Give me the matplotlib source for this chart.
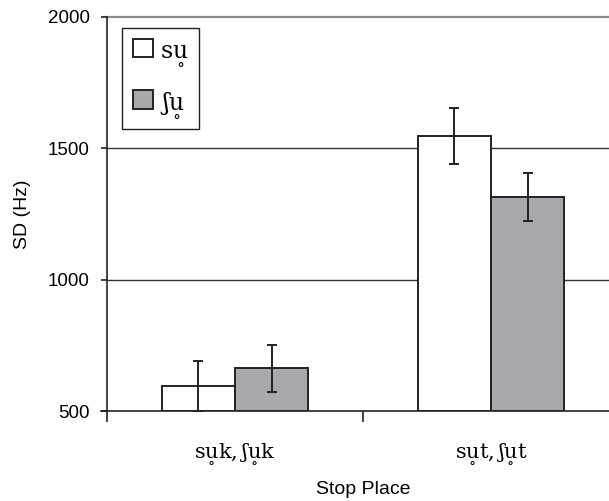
import numpy as np
import matplotlib
matplotlib.use("Agg")
import matplotlib.pyplot as plt

# mean SD per stop place, with error bar half-widths
places = [r"$\mathrm{s}\underset{\circ}{\mathrm{u}}\mathrm{k},\mathrm{ʃ}\underset{\circ}{\mathrm{u}}\mathrm{k}$",
          r"$\mathrm{s}\underset{\circ}{\mathrm{u}}\mathrm{t},\mathrm{ʃ}\underset{\circ}{\mathrm{u}}\mathrm{t}$"]
series = [r"$\mathrm{s}\underset{\circ}{\mathrm{u}}$", r"$\mathrm{ʃ}\underset{\circ}{\mathrm{u}}$"]
sd_s = [595, 1548]
sd_sh = [662, 1315]
err_s = [95, 106]
err_sh = [88, 92]

colors = ["white", "#a8a9ac"]
plt.rcParams["font.family"] = ["Liberation Sans", "DejaVu Sans"]
plt.rcParams["mathtext.fontset"] = "dejavuserif"

fig = plt.figure(figsize=(6.09, 5.01), dpi=100)
ax = fig.add_axes([107 / 609, 90 / 501, 512 / 609, 394 / 501])

x = np.arange(len(places)) + 0.5
w = 0.286
for i, (vals, errs) in enumerate([(sd_s, err_s), (sd_sh, err_sh)]):
    pos = x + (i - 0.5) * w
    ax.bar(pos, np.array(vals) - 500, w, bottom=500, color=colors[i],
           edgecolor="#222222", linewidth=1.4, label=series[i], zorder=2)
    ax.errorbar(pos, vals, yerr=errs, fmt="none", ecolor="#222222",
                elinewidth=1.4, capsize=3.8, capthick=1.4, zorder=3)

ax.set_xlim(0, 2)
ax.set_ylim(500, 2000)
ax.set_yticks([500, 1000, 1500, 2000])
for yv in [1000, 1500]:
    ax.axhline(yv, color="#333333", linewidth=1.0, zorder=1)
ax.axhline(2000, color="#888888", linewidth=1.6, zorder=1, clip_on=False)

ax.set_xticks([0, 1, 2])
ax.set_xticklabels([])
ax.set_xticks(x, minor=True)
ax.set_xticklabels(places, minor=True, fontsize=15)
ax.tick_params(axis="x", which="major", direction="out", length=8, width=1.2, color="#222222")
ax.tick_params(axis="x", which="minor", length=0, pad=22)
ax.tick_params(axis="y", direction="out", length=4.5, width=1.2, color="#222222",
               labelsize=13.5, pad=8)

for s in ["top", "right"]:
    ax.spines[s].set_visible(False)
for s in ["left", "bottom"]:
    ax.spines[s].set_linewidth(1.2)
    ax.spines[s].set_color("#222222")
ax.spines["bottom"].set_bounds(-0.025, 2)

ax.set_xlabel("Stop Place", fontsize=14, labelpad=11)
ax.set_ylabel("SD (Hz)", fontsize=14, labelpad=12)

leg = ax.legend(loc="upper left", bbox_to_anchor=(122 / 609, 1 - 28 / 501),
                bbox_transform=fig.transFigure, prop={"size": 17},
                fancybox=False, edgecolor="#222222", framealpha=1,
                handlelength=0.85, handleheight=0.85, handletextpad=0.3,
                labelspacing=0.95, borderpad=0.45, borderaxespad=0)
leg.get_frame().set_linewidth(1.0)

fig.savefig("out.png", dpi=100)
